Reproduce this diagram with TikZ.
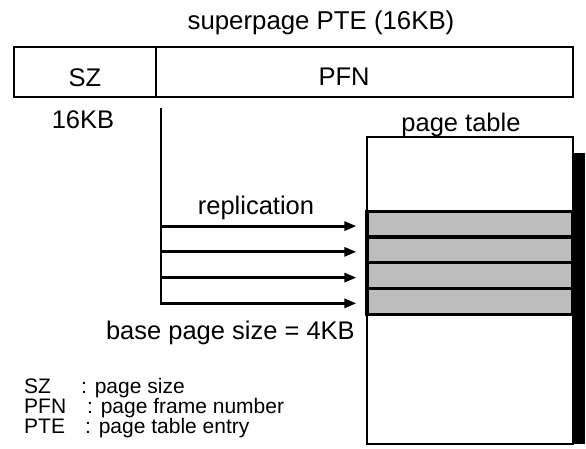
\documentclass[tikz,border=0pt]{standalone}
\usepackage{fontspec}
\setmainfont{Liberation Sans}
\usetikzlibrary{arrows.meta}
\begin{document}
\begin{tikzpicture}[x=1pt,y=-1pt,
  lbl/.style={inner sep=0pt, font=\fontsize{25.5}{30}\selectfont},
  leg/.style={inner sep=0pt, anchor=base west, font=\fontsize{21}{24}\selectfont},
  cell/.style={draw, line width=2pt, inner sep=0pt, minimum height=50pt},
  row/.style={fill=gray!52, draw=black, line width=3.2pt, inner sep=0pt, minimum width=206pt, minimum height=25.75pt},
  arr/.style={line width=2.8pt, -{Triangle[length=12pt,width=9pt]}, shorten >=9pt}]
\useasboundingbox (0,0) rectangle (586,448);
% superpage PTE
\node[cell, minimum width=142pt] (szcell) at (85,72) {};
\node[cell, minimum width=417pt] (pfncell) at (364.5,72) {};
\node[lbl, font=\fontsize{25.8}{30}\selectfont] (title) at (321,23) {superpage PTE (16KB)};
\node[lbl] (szt) at (85,78) {SZ};
\node[lbl] (pfnt) at (344,77) {PFN};
\node[lbl] (kb) at (83,120) {16KB};
% page table
\fill (573,153) rectangle (585,444);
\node[draw, line width=2.5pt, fill=white, inner sep=0pt, minimum width=206pt, minimum height=307pt] (ptable) at (470,290.5) {};
\node[lbl] (ptl) at (461,125) {page table};
\node[row] (r1) at (470,224.1) {};
\node[row] (r2) at (470,249.85) {};
\node[row] (r3) at (470,275.6) {};
\node[row] (r4) at (470,301.35) {};
% replication arrows
\coordinate (trunktop) at (161,108);
\coordinate (a1) at ([yshift=-2pt]r1.west);
\coordinate (a2) at ([yshift=-2pt]r2.west);
\coordinate (a3) at ([yshift=-2pt]r3.west);
\coordinate (a4) at ([yshift=-2pt]r4.west);
\draw[arr] (trunktop) -- (trunktop |- a4) -- (a4);
\draw[arr] (trunktop |- a1) -- (a1);
\draw[arr] (trunktop |- a2) -- (a2);
\draw[arr] (trunktop |- a3) -- (a3);
\node[lbl] (rep) at (256,208) {replication};
\node[lbl, anchor=base east] (base) at (355,339) {base page size = 4KB};
% legend
\node[leg] (lsz) at (24,393) {SZ};
\node[leg] (lszd) at (81,393) {: page size};
\node[leg] (lpfn) at (24,413) {PFN};
\node[leg] (lpfnd) at (87,413) {: page frame number};
\node[leg] (lpte) at (24,433) {PTE};
\node[leg] (lpted) at (85,433) {: page table entry};
\end{tikzpicture}
\end{document}
